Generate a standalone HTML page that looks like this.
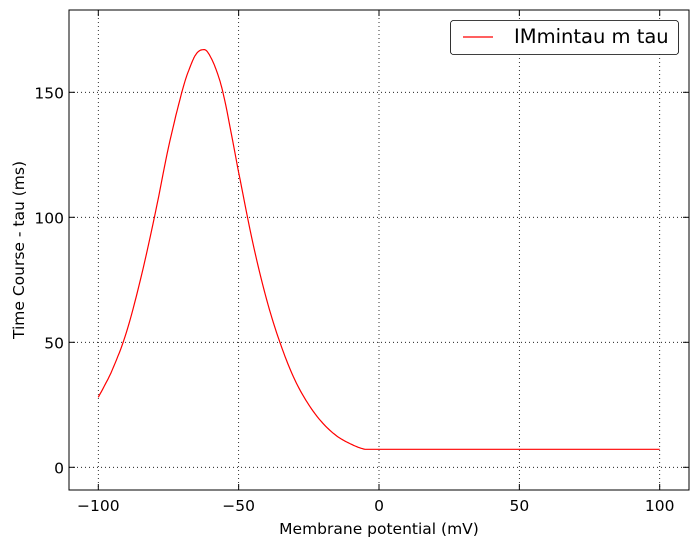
<!DOCTYPE html>
<html><head><meta charset="utf-8"><style>
body{margin:0;background:#fff;font-family:"DejaVu Sans",sans-serif;}
</style></head><body>
<svg width="699" height="548" xmlns="http://www.w3.org/2000/svg" font-family="DejaVu Sans, sans-serif">
<g id="grid"></g>
<g id="axes"></g>
<polyline id="line" fill="none" stroke="#ff0000" stroke-width="1.2"/>
<rect x="69" y="10" width="620" height="480" fill="none" stroke="#000" stroke-width="1"/>
<g>
<rect x="450.5" y="20.5" width="228" height="34" rx="3" fill="#fff" stroke="#000" stroke-width="0.8"/>
<line x1="463" y1="37" x2="493" y2="37" stroke="#ff0000" stroke-width="1.2"/>
<text x="514" y="43" font-size="19.5">IMmintau m tau</text>
</g>
<text x="379" y="534" font-size="15.5" text-anchor="middle">Membrane potential (mV)</text>
<text transform="translate(24,250) rotate(-90)" font-size="15.5" text-anchor="middle">Time Course - tau (ms)</text>
</svg>
<script>
const voltages=[-100,-95,-90,-85,-80,-75,-70,-67,-65,-63,-61,-58,-55,-50,-45,-40,-35,-30,-25,-20,-15,-10,-5,0,50,100];
const tauValues=[28,39,54,75,100,128,151,161,165.5,167,166,159,147,118,90,67,49,35,25,17.6,12.5,9.3,7.2,7.2,7.2,7.2];
const xTicks=[-100,-50,0,50,100];
const yTicks=[0,50,100,150];
const xs=v=>98.3+(v+100)*2.807;
const ys=t=>467.3-t*2.5;
const NS="http://www.w3.org/2000/svg";
const grid=document.getElementById('grid'),axes=document.getElementById('axes');
function mk(tag,attrs,parent){const e=document.createElementNS(NS,tag);for(const k in attrs)e.setAttribute(k,attrs[k]);parent.appendChild(e);return e;}
xTicks.forEach(v=>{const x=xs(v);
const g=mk('line',{x1:x,x2:x,y1:10,y2:490,stroke:'#000','stroke-width':0.8,'stroke-dasharray':'1,3'},grid);


const t1=mk('line',{x1:x,x2:x,y1:490,y2:484,stroke:'#000'},axes);


const t2=mk('line',{x1:x,x2:x,y1:10,y2:16,stroke:'#000'},axes);


const l=mk('text',{x:x,y:511,'font-size':15.5,'text-anchor':'middle'},axes);l.textContent=(v<0?'\u2212'+(-v):v);


});
yTicks.forEach(t=>{const y=ys(t);
const g=mk('line',{x1:69,x2:689,y1:y,y2:y,stroke:'#000','stroke-width':0.8,'stroke-dasharray':'1,3'},grid);


const t1=mk('line',{x1:69,x2:75,y1:y,y2:y,stroke:'#000'},axes);


const t2=mk('line',{x1:683,x2:689,y1:y,y2:y,stroke:'#000'},axes);


const l=mk('text',{x:64,y:y+6,'font-size':15.5,'text-anchor':'end'},axes);l.textContent=t;


});
const pts=voltages.map((v,i)=>[xs(v),ys(tauValues[i])]);
let out=[];
for(let i=0;i<pts.length-1;i++){const p0=pts[Math.max(0,i-1)],p1=pts[i],p2=pts[i+1],p3=pts[Math.min(pts.length-1,i+2)];
const flat=tauValues[i]===tauValues[i+1];
for(let s=0;s<10;s++){const u=s/10;
if(flat){out.push([p1[0]+(p2[0]-p1[0])*u,p1[1]]);continue;}
const f=(a,b,c,d)=>0.5*((2*b)+(-a+c)*u+(2*a-5*b+4*c-d)*u*u+(-a+3*b-3*c+d)*u*u*u);
out.push([f(p0[0],p1[0],p2[0],p3[0]),f(p0[1],p1[1],p2[1],p3[1])]);}}
out.push(pts[pts.length-1]);
document.getElementById('line').setAttribute('points',out.map(p=>p[0].toFixed(1)+','+p[1].toFixed(1)).join(' '));
</script>
</body></html>
